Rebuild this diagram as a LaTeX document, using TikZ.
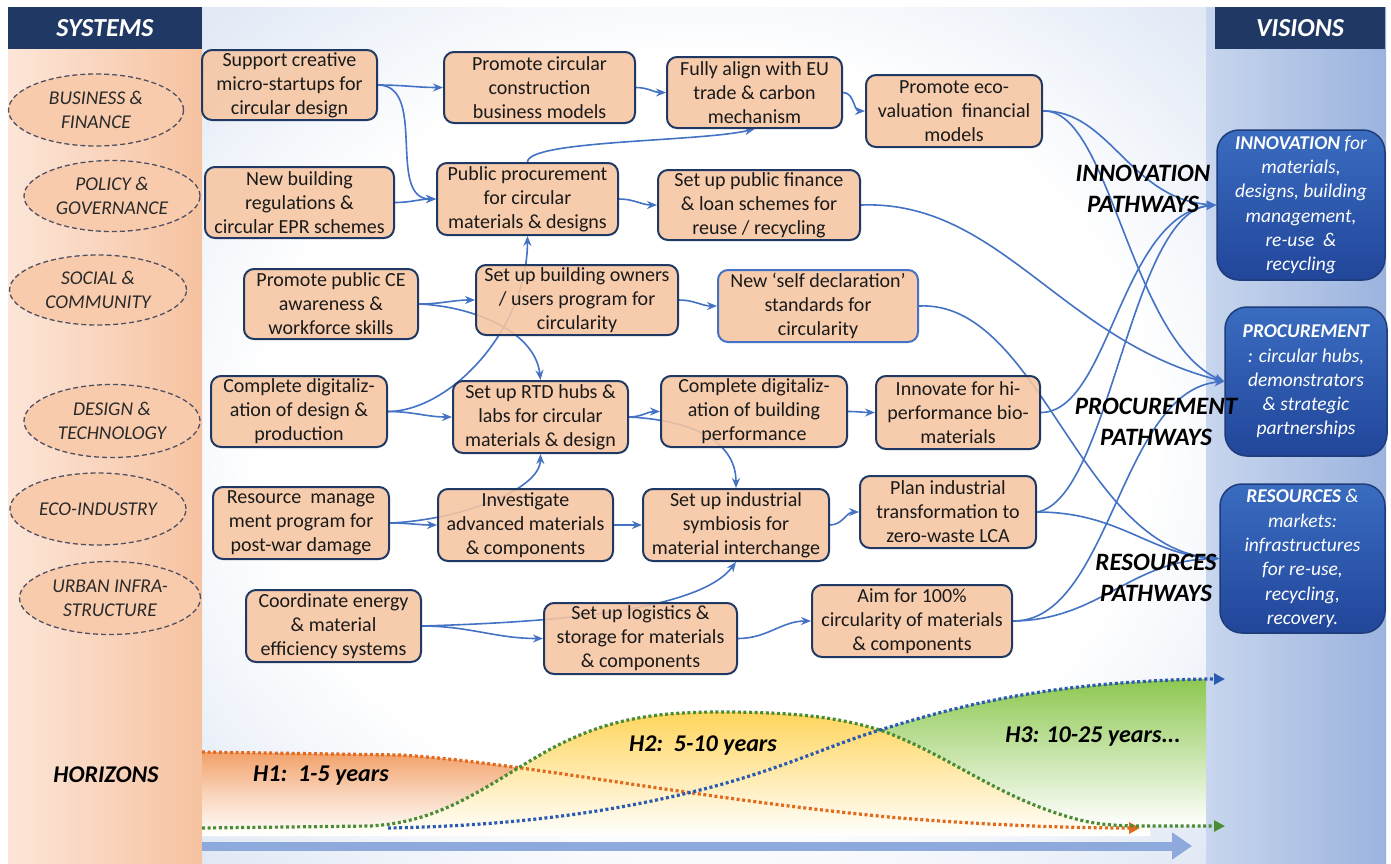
\documentclass[tikz,border=0pt]{standalone}
\usepackage{fontspec}
\setmainfont{Carlito}
\usetikzlibrary{arrows.meta,shapes.geometric,shadings}
\pgfdeclarelayer{bg}
\pgfdeclarelayer{lk}
\pgfsetlayers{bg,lk,main}

\definecolor{boxfill}{HTML}{F6C6A2}
\definecolor{boxline}{HTML}{1F3864}
\definecolor{linkc}{HTML}{4472C4}
\definecolor{navy}{HTML}{1F3864}
\definecolor{visA}{HTML}{3A6CC0}
\definecolor{visB}{HTML}{21469A}
\definecolor{visline}{HTML}{1F3C7A}
\definecolor{peachL}{HTML}{FCE6D8}
\definecolor{peachR}{HTML}{F6C2A0}
\definecolor{ellfill}{HTML}{F8CBAD}
\definecolor{ellline}{HTML}{505062}
\definecolor{bgblue}{HTML}{D5E0F1}
\definecolor{rpL}{HTML}{C8D6EE}
\definecolor{rpR}{HTML}{9BB3DE}
\definecolor{horOr}{HTML}{F2A068}
\definecolor{horYe}{HTML}{FFD55C}
\definecolor{horGr}{HTML}{8DC850}
\definecolor{dotOr}{HTML}{E06A1E}
\definecolor{dotGr}{HTML}{4A8C34}
\definecolor{dotBl}{HTML}{2B5BB0}
\definecolor{barBl}{HTML}{8EA9DB}
\definecolor{txt}{HTML}{1A1A1A}
\definecolor{elltxt}{HTML}{2A2A2A}

\pgfdeclareradialshading{bgrad}{\pgfpoint{0bp}{0bp}}{%
  color(0bp)=(white); color(22bp)=(white); color(40bp)=(bgblue); color(50bp)=(bgblue)}

\tikzset{
  sbox/.style 2 args={draw=boxline, line width=2pt, fill=boxfill, fill opacity=0.88, text opacity=1,
    rounded corners=10pt, align=center, inner sep=1pt, text=txt,
    font=\fontsize{20}{24}\selectfont, minimum width=#1, minimum height=#2},
  ell/.style 2 args={ellipse, draw=ellline, line width=1.3pt, dash pattern=on 5pt off 3pt,
    fill=ellfill, inner sep=0pt, align=center, text=elltxt,
    font=\itshape\fontsize{19.5}{24}\selectfont, minimum width=#1, minimum height=#2},
  vis/.style 2 args={draw=visline, line width=1.5pt, top color=visA, bottom color=visB,
    rounded corners=22pt, align=center, inner sep=1pt, text=white,
    font=\itshape\fontsize{19.5}{24.3}\selectfont, minimum width=#1, minimum height=#2},
  head/.style={fill=navy, text=white, inner sep=0pt,
    font=\bfseries\itshape\fontsize{26}{30}\selectfont},
  plabel/.style={align=center, text=black, inner sep=0pt,
    font=\bfseries\itshape\fontsize{25}{31}\selectfont},
  hlabel/.style={text=black, inner sep=0pt,
    font=\bfseries\itshape\fontsize{24}{28}\selectfont},
  link/.style={draw=linkc, line width=1.6pt, -{Stealth[length=10pt,width=8pt]}},
  hdot/.style={line width=3.2pt, dash pattern=on 3pt off 2.6pt, -{Triangle[length=11pt,width=11pt]}},
}

\begin{document}
\begin{tikzpicture}[x=1pt,y=-1pt]
\useasboundingbox (0,0) rectangle (1391,863);

% ---------- background ----------
\begin{pgfonlayer}{bg}
\fill[white] (0,0) rectangle (1391,863);
\shade[shading=bgrad] (202,7) rectangle (1207,863);
\shade[left color=rpL, right color=rpR] (1206,7) rectangle (1386,863);
\shade[left color=peachL, right color=peachR] (8,7) rectangle (202,863);
% horizon areas
\shade[top color=horOr, bottom color=white, middle color=horOr!45]
  (202,752) -- (400,755) .. controls (520,762) and (700,800) .. (900,818)
  .. controls (1000,826) and (1080,828) .. (1140,828) -- (1140,836) -- (202,836) -- cycle;
\shade[top color=horYe, bottom color=white]
  (202,836) -- (202,828) -- (370,826) .. controls (440,822) and (480,790) .. (540,755)
  .. controls (600,720) and (650,712) .. (720,712) .. controls (800,712) and (840,718) .. (880,730)
  .. controls (950,755) and (1000,800) .. (1080,820) .. controls (1100,825) and (1120,826) .. (1150,826)
  -- (1150,836) -- cycle;
\shade[top color=horGr, bottom color=white]
  (880,730) .. controls (960,705) and (1050,682) .. (1206,679) -- (1206,826) -- (1150,826)
  .. controls (1120,826) and (1100,825) .. (1080,820) .. controls (1000,800) and (950,755) .. (880,730) -- cycle;
\end{pgfonlayer}

% ---------- horizon curves ----------
\draw[barBl, line width=9pt, -{Triangle[length=20pt,width=26pt]}] (202,846) -- (1192,846);
\draw[hdot, dotOr] (202,752) -- (400,755) .. controls (520,762) and (700,800) .. (900,818)
  .. controls (1000,826) and (1080,828) .. (1140,828);
\draw[hdot, dotGr] (202,828) -- (370,826) .. controls (440,822) and (480,790) .. (540,755)
  .. controls (600,720) and (650,712) .. (720,712) .. controls (800,712) and (840,718) .. (880,730)
  .. controls (950,755) and (1000,800) .. (1080,820) .. controls (1100,825) and (1120,826) .. (1150,826)
  -- (1225,826);
\draw[hdot, dotBl] (388,828) .. controls (500,826) and (600,815) .. (700,790)
  .. controls (780,770) and (830,745) .. (880,730) .. controls (960,705) and (1050,682) .. (1206,679)
  -- (1225,679);

\node[hlabel] (hor) at (106,775) {HORIZONS};
\node[hlabel] (h1) at (321,776) {H1:\ \ 1-5 years};
\node[hlabel] (h2) at (703,746) {H2:\ \ 5-10 years};
\node[hlabel] (h3) at (1093,737) {H3: 10-25 years...};

% ---------- headers ----------
\node[head, minimum width=194pt, minimum height=42pt] (sys) at (105,28) {SYSTEMS};
\node[head, minimum width=170pt, minimum height=42pt] (visn) at (1300,28) {VISIONS};

% ---------- system ellipses ----------
\node[ell={175pt}{72pt}] (s1) at (96,110) {BUSINESS \&\\FINANCE};
\node[ell={176pt}{71pt}] (s2) at (112,196) {POLICY \&\\GOVERNANCE};
\node[ell={177pt}{70pt}] (s3) at (98,290) {SOCIAL \&\\COMMUNITY};
\node[ell={176pt}{73pt}] (s4) at (112,421) {DESIGN \&\\TECHNOLOGY};
\node[ell={176pt}{72pt}] (s5) at (98,509) {ECO-INDUSTRY};
\node[ell={181pt}{73pt}] (s6) at (110,598) {URBAN INFRA-\\STRUCTURE};

% ---------- action boxes ----------
\node[sbox={175pt}{70pt}] (b1) at (289.5,85) {Support creative\\micro-startups for\\circular design};
\node[sbox={189pt}{71pt}] (b2) at (299.5,202.5) {New building\\regulations \&\\circular EPR schemes};
\node[sbox={174pt}{70pt}] (b3) at (331,304) {Promote public CE\\awareness \&\\workforce skills};
\node[sbox={176pt}{71pt}] (b4) at (299,411.5) {Complete digitaliz-\\ation of design \&\\production};
\node[sbox={176pt}{72pt}] (b5) at (301,523) {Resource\ \ manage\\ment program for\\post-war damage};
\node[sbox={175pt}{72pt}] (b6) at (333.5,626) {Coordinate energy\\\& material\\efficiency systems};

\node[sbox={191pt}{71pt}] (c1) at (539.5,87.5) {Promote circular\\construction\\business models};
\node[sbox={181pt}{72pt}] (c2) at (527.5,199) {Public procurement\\for circular\\materials \& designs};
\node[sbox={202pt}{70pt}] (c3) at (577,300) {Set up building owners\\/ users program for\\circularity};
\node[sbox={175pt}{72pt}] (c4) at (540.5,417) {Set up RTD hubs \&\\labs for circular\\materials \& design};
\node[sbox={175pt}{72pt}] (c5) at (525.5,525) {Investigate\\advanced materials\\\& components};
\node[sbox={193pt}{71pt}] (c6) at (640.5,638.5) {Set up logistics \&\\storage for materials\\\& components};

\node[sbox={175pt}{71pt}] (d1) at (754.5,92.5) {Fully align with EU\\trade \& carbon\\mechanism};
\node[sbox={202pt}{70pt}] (d2) at (759,205) {Set up public finance\\\& loan schemes for\\reuse / recycling};
\node[sbox={200pt}{72pt}, draw=linkc] (d3) at (818,306) {New ‘self declaration’\\standards for\\circularity};
\node[sbox={186pt}{71pt}] (d4) at (754,411.5) {Complete digitaliz-\\ation of building\\performance};
\node[sbox={186pt}{72pt}] (d5) at (736,525) {Set up industrial\\symbiosis for\\material interchange};

\node[sbox={176pt}{72pt}] (e1) at (954,111) {Promote eco-\\valuation\ \ financial\\models};
\node[sbox={164pt}{73pt}] (e2) at (958,412.5) {Innovate for hi-\\performance bio-\\materials};
\node[sbox={176pt}{72pt}] (e3) at (948,512) {Plan industrial\\transformation to\\zero-waste LCA};
\node[sbox={200pt}{72pt}] (e4) at (912,621) {Aim for 100\%\\circularity of materials\\\& components};

% ---------- vision boxes ----------
\node[vis={168pt}{150pt}] (v1) at (1301,205) {{\bfseries INNOVATION} for\\materials,\\designs, building\\management,\\re-use\ \ \&\\recycling};
\node[vis={162pt}{149pt}] (v2) at (1306,381.5) {{\bfseries PROCUREMENT}\\: circular hubs,\\demonstrators\\\& strategic\\partnerships};
\node[vis={165pt}{149pt}] (v3) at (1302.5,558.5) {{\bfseries RESOURCES} \&\\markets:\\infrastructures\\for re-use,\\recycling,\\recovery.};

% ---------- links ----------
\begin{pgfonlayer}{lk}
\draw[link] (b1.east) to[out=0,in=180] (c1.west);
\draw[link] (b1.east) to[out=0,in=180] (c2.west);
\draw[link] (b2.east) to[out=0,in=180] (c2.west);
\draw[link] (c1.east) to[out=0,in=180] (d1.west);
\draw[link] (c2.north) .. controls (528,140) and (700,142) .. (d1.south);
\draw[link] (d1.east) to[out=0,in=180] (e1.west);
\draw[link] (c2.east) to[out=0,in=180] (d2.west);
\draw[link] (b3.east) to[out=0,in=180] (c3.west);
\draw[link] (b3.east) .. controls (470,306) and (535,330) .. (c4.north);
\draw[link] (c3.east) to[out=0,in=180] (d3.west);
\draw[link] (b4.east) to[out=0,in=180] (c4.west);
\draw[link] (b4.east) .. controls (450,411) and (527,330) .. (c2.south);
\draw[link] (b5.east) to[out=0,in=180] (c5.west);
\draw[link] (b5.east) .. controls (460,520) and (540,490) .. (c4.south);
\draw[link] (c4.east) to[out=0,in=180] (d4.west);
\draw[link] (c4.east) .. controls (690,420) and (736,440) .. (d5.north);
\draw[link] (c5.east) to[out=0,in=180] (d5.west);
\draw[link] (d5.east) to[out=0,in=180] (e3.west);
\draw[link] (b6.east) to[out=0,in=180] (c6.west);
\draw[link] (b6.east) .. controls (560,622) and (700,610) .. (d5.south);
\draw[link] (c6.east) to[out=0,in=180] (e4.west);
\draw[link] (d4.east) to[out=0,in=180] (e2.west);
% pathways
\draw[link] (e1.east) .. controls (1110,110) and (1130,200) .. (v1.west);
\draw[link] (e1.east) .. controls (1110,108) and (1130,340) .. (v2.west);
\draw[link] (d2.east) .. controls (1000,200) and (1060,340) .. (v2.west);
\draw[link] (d3.east) .. controls (1040,300) and (1080,550) .. (v3.west);
\draw[link] (e2.east) .. controls (1110,412) and (1120,215) .. (v1.west);
\draw[link] (e3.east) .. controls (1110,500) and (1130,210) .. (v1.west);
\draw[link] (e3.east) .. controls (1120,512) and (1150,555) .. (v3.west);
\draw[link] (e4.east) .. controls (1110,622) and (1120,390) .. (v2.west);
\draw[link] (e4.east) .. controls (1100,620) and (1130,560) .. (v3.west);
\end{pgfonlayer}

% ---------- pathway labels ----------
\node[plabel] (p1) at (1143,189) {INNOVATION\\PATHWAYS};
\node[plabel] (p2) at (1156,421.5) {PROCUREMENT\\PATHWAYS};
\node[plabel] (p3) at (1156,577.5) {RESOURCES\\PATHWAYS};
\end{tikzpicture}
\end{document}
